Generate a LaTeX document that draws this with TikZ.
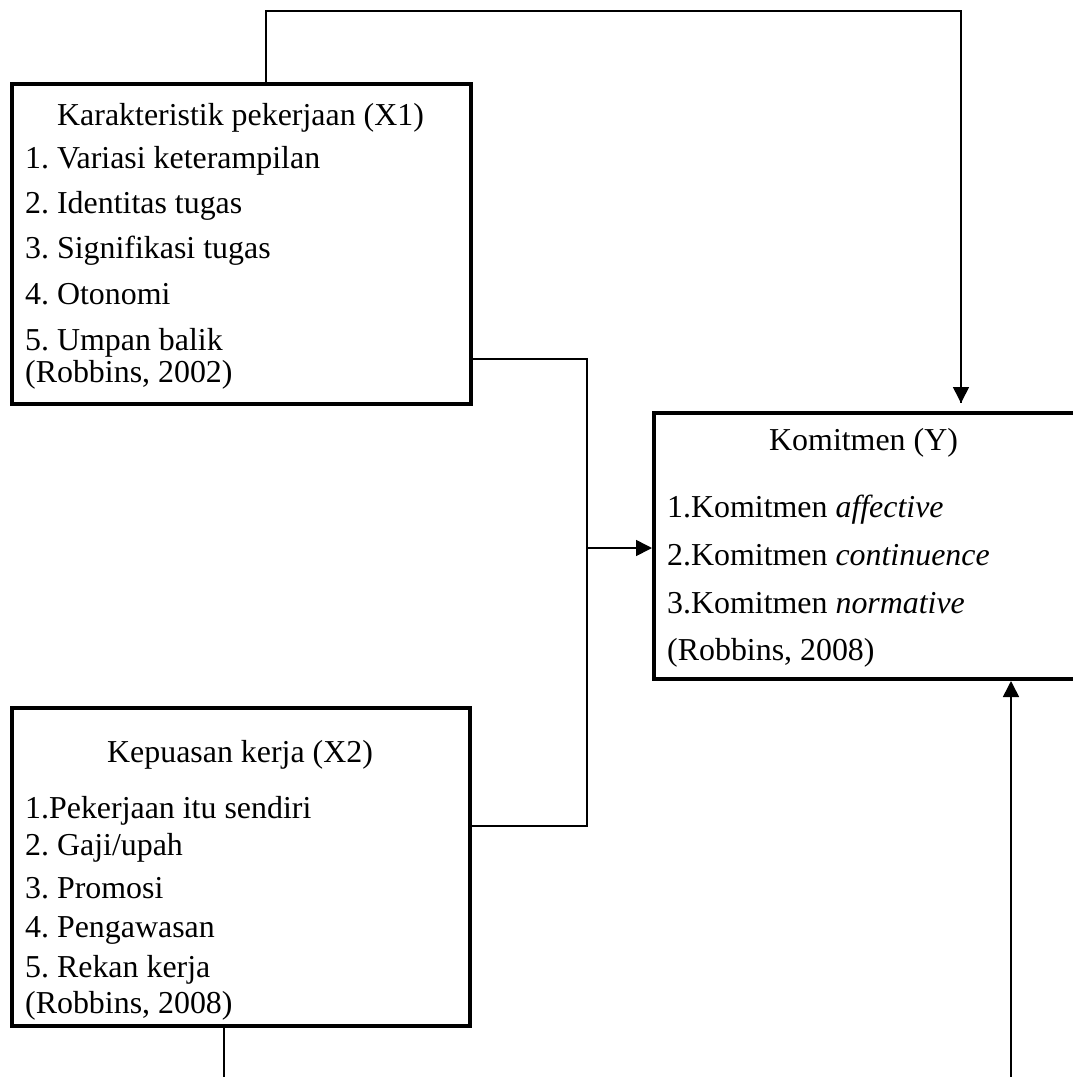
\documentclass[tikz,border=0pt]{standalone}
\usepackage{fontspec}
\setmainfont{Liberation Serif}
\usetikzlibrary{arrows.meta}
\frenchspacing
\begin{document}
\begin{tikzpicture}[x=1pt,y=-1pt,
  box/.style={draw,line width=4pt,inner sep=0pt,anchor=north west},
  txt/.style={anchor=base west,inner sep=0pt,font=\fontsize{31.9}{38}\selectfont},
  conn/.style={line width=1.6pt},
  arr/.style={line width=1.6pt,-{Triangle[length=16pt,width=16pt]}}]
\useasboundingbox (0,0) rectangle (1073,1077);
% boxes
\node[box,minimum width=459pt,minimum height=320pt] (x1) at (10,82) {};
\node[box,minimum width=458pt,minimum height=318pt] (x2) at (10,706) {};
\node[box,minimum width=460pt,minimum height=266pt] (y) at (652,411) {};
% texts X1
\node[txt] (x1t) at (57,125) {Karakteristik pekerjaan (X1)};
\node[txt] (x1a) at (25,168) {1. Variasi keterampilan};
\node[txt] (x1b) at (25,213) {2. Identitas tugas};
\node[txt] (x1c) at (25,258) {3. Signifikasi tugas};
\node[txt] (x1d) at (25,304) {4. Otonomi};
\node[txt] (x1e) at (25,350) {5. Umpan balik};
\node[txt] (x1r) at (25,382) {(Robbins, 2002)};
% texts X2
\node[txt] (x2t) at (107,762) {Kepuasan kerja (X2)};
\node[txt] (x2a) at (25,818) {1.Pekerjaan itu sendiri};
\node[txt] (x2b) at (25,855) {2. Gaji/upah};
\node[txt] (x2c) at (25,898) {3. Promosi};
\node[txt] (x2d) at (25,937) {4. Pengawasan};
\node[txt] (x2e) at (25,977) {5. Rekan kerja};
\node[txt] (x2r) at (25,1013) {(Robbins, 2008)};
% texts Y
\node[txt] (yt) at (769,450) {Komitmen (Y)};
\node[txt] (ya) at (667,517) {1.Komitmen \textit{affective}};
\node[txt] (yb) at (667,565) {2.Komitmen \textit{continuence}};
\node[txt] (yc) at (667,613) {3.Komitmen \textit{normative}};
\node[txt] (yr) at (667,660) {(Robbins, 2008)};
% connector coordinates
\coordinate (t1) at (266,11);
\coordinate (t2) at (961,11);
\coordinate (t3) at (961,403);
\coordinate (j1) at (587,359);
\coordinate (j2) at (587,826);
\coordinate (jm) at (586,548);
\coordinate (b1) at (224,1077);
\coordinate (b1s) at (224,1027);
\coordinate (b2) at (1011,1077);
\coordinate (b2e) at (1011,681);
% connectors
\draw[conn] (x1.north -| t1) -- (t1) -- (t2) -- (t3);
\draw[arr] (t2) -- (t3);
\draw[conn] (x1.east |- j1) -- (j1) -- (j2) -- (x2.east |- j2);
\draw[arr] (jm) -- (y.west |- jm);
\draw[conn] (b1s) -- (b1);
\draw[arr] (b2) -- (b2e);
\end{tikzpicture}
\end{document}
